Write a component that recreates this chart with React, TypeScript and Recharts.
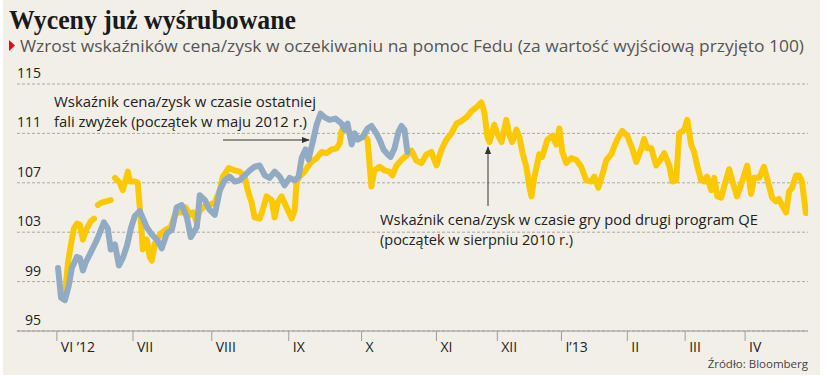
import { CartesianGrid, Line, LineChart, XAxis, YAxis } from "recharts";

// x = trading session counted from the left edge of the plot
const monthTicks = [13.3, 38.7, 65, 90.7, 115, 140, 160.3, 181.7, 203.7, 223, 243];
const monthLabels = ["VI ’12", "VII", "VIII", "IX", "X", "XI", "XII", "I’13", "II", "III", "IV"];
const valueTicks = [95, 99, 103, 107, 111, 115];

// wskaźnik C/Z, fala zwyżek od maja 2012 (niebieska)
const wave2012: [number, number][] = [
  [13.7, 100.1], [14.7, 97.7], [16, 97.5], [17.3, 98.7], [18.3, 100.1], [20, 101.0], [21, 100.9],
  [22, 99.9], [23, 100.6], [24.3, 101.2], [25.3, 101.7], [26.7, 102.4], [27.7, 103.0], [29, 103.8],
  [30.3, 103.3], [31.3, 101.6], [32.7, 102.0], [34, 100.3], [35.3, 100.9], [36.7, 101.9], [38, 103.3],
  [39.3, 104.3], [41, 104.7], [43.3, 103.4], [45, 102.8], [46.7, 102.4], [48.3, 101.7], [50, 102.9],
  [51.7, 103.2], [53.3, 105.0], [55, 105.2], [56.7, 104.2], [58, 102.6], [60, 103.4], [61, 106.0],
  [62.7, 105.6], [64.3, 104.8], [66, 104.4], [67.7, 106.4], [69.3, 107.2], [71, 107.5], [72.7, 107.1],
  [74.3, 107.2], [76, 107.6], [77.7, 108.0], [79.3, 108.3], [81, 108.4], [82.7, 107.6], [84.3, 107.4],
  [86, 107.9], [87.7, 107.5], [89.3, 106.8], [91, 107.4], [92.7, 107.2], [94, 107.5], [95, 109.0],
  [96.3, 109.7], [97.3, 108.9], [98.7, 110.3], [100, 111.7], [101.3, 112.6], [102.7, 112.3],
  [104.3, 112.1], [106.3, 112.2], [108.3, 111.8], [109.3, 111.3], [110.3, 111.8], [111.7, 110.1],
  [112.7, 111.0], [113.7, 110.5], [115.3, 110.7], [117, 111.4], [118.3, 111.6], [119.7, 111.1],
  [121, 110.5], [122.3, 109.7], [123.7, 109.3], [124.7, 109.1], [126, 109.8], [127.3, 111.1],
  [128.3, 111.6], [129.3, 111.3], [130.3, 109.5],
];

// wskaźnik C/Z przed QE2, od sierpnia 2010 (żółta); null = przerwa w linii
const qe2010: [number, number | null][] = [
  [15.3, 98.2], [16.3, 98.7], [17, 100.5], [18, 102.0], [19, 103.3], [20, 103.7], [21, 103.6],
  [22, 102.4], [23.3, 103.3], [24.7, 103.9], [25.7, 104.1], [26.5, null],
  [27, 105.2], [28.3, 105.4], [29.7, 105.5], [31.3, 105.6], [32, null],
  [32.7, 107.4], [34.3, 107.0], [35.3, 106.4], [36, 107.0], [37, 107.9], [37.7, 107.1], [39.3, 107.1],
  [40.3, 107.0], [41.3, 104.0], [42, 101.6], [43.3, 102.4], [44.3, 101.0], [45, 100.7], [46, 102.1],
  [48, 102.9], [49.7, 103.2], [51.3, 103.4], [53, 104.6], [55, 104.6], [56.3, 105.0], [57.7, 104.4],
  [58.7, 104.6], [60, 103.8], [61, 104.8], [62.7, 105.1], [64.3, 105.2], [66, 105.4], [67.7, 106.4],
  [68.7, 107.5], [70.7, 108.2], [72.7, 108.0], [74.3, 107.9], [76, 107.5], [77, 106.4], [78.3, 105.4],
  [79.3, 104.2], [81, 104.1], [82, 104.8], [83.3, 105.9], [85, 105.6], [86, 104.2], [87, 105.4],
  [88.3, 105.9], [90, 105.0], [91.7, 104.1], [92.7, 104.8], [93.3, 107.0], [94.3, 107.5], [96, 107.9],
  [97, 108.3], [98.3, 108.7], [100, 109.0], [101.7, 109.5], [103.3, 109.4], [105, 109.7],
  [106.7, 109.8], [107.7, 110.2], [108.3, 111.2], [109.3, 111.4], [111, 111.0], [112.7, 110.6],
  [114.3, 110.6], [116, 110.8], [117, 110.5], [117.7, 108.4], [118.3, 106.7], [119.3, 108.0],
  [121, 108.3], [122.7, 108.0], [124.3, 107.9], [125.3, 107.6], [126.7, 108.4], [128.3, 108.85],
  [130, 109.2], [131.7, 109.6], [133.3, 108.8], [135, 108.6], [136.7, 109.3], [138.3, 109.5],
  [140, 108.4], [141.7, 109.7], [143.3, 110.5], [145, 111.0], [146.7, 111.8], [148.3, 112.0],
  [150, 112.3], [151.7, 112.8], [153.3, 113.1], [155, 113.5], [156, 112.7], [157, 110.7],
  [157.7, 110.3], [159.3, 111.7], [160.3, 111.0], [161.7, 110.3], [163.3, 112.1], [164.3, 110.9],
  [165.3, 110.3], [166.7, 111.3], [167.7, 110.7], [168.7, 109.4], [170, 108.3], [171, 106.7],
  [171.7, 105.9], [172.7, 107.5], [174.3, 109.3], [175.3, 109.1], [177, 110.5], [178.7, 110.8],
  [180, 110.1], [181, 111.4], [182, 109.5], [183.3, 108.6], [185, 109.0], [186.7, 108.85],
  [188.3, 108.3], [190, 107.2], [191.7, 107.1], [192.7, 107.5], [194, 106.6], [195.3, 107.6],
  [196.7, 108.85], [198.3, 109.3], [200.3, 110.5], [202, 111.2], [203.7, 110.8], [205.3, 109.8],
  [206.7, 108.7], [208.3, 109.7], [209.3, 110.55], [210.3, 109.8], [211.7, 109.8], [213.3, 108.4],
  [214.7, 108.85], [216, 109.4], [217.7, 108.4], [218.7, 107.1], [220, 107.2], [221, 111.0],
  [222.7, 111.3], [223.7, 112.1], [225, 110.1], [226, 109.5], [227, 108.4], [228.3, 107.2],
  [229.3, 107.1], [230.3, 107.5], [231.7, 106.4], [232.7, 107.4], [233.7, 105.9], [235, 105.8],
  [236, 106.7], [237.7, 108.1], [238.7, 107.2], [240.3, 105.9], [242, 107.1], [243.7, 108.4],
  [245, 106.1], [246, 107.4], [247.7, 107.4], [249.3, 108.3], [250.3, 107.4], [252, 105.8],
  [253.3, 105.5], [254.3, 105.7], [255.3, 105.2], [256.7, 104.6], [257.7, 106.3], [258.7, 106.6],
  [260, 107.6], [261, 107.6], [262, 107.1], [263.3, 104.55],
];

const wave2012Rows = wave2012.map(([day, value]) => ({ day, value }));
const qe2010Rows = qe2010.map(([day, value]) => ({ day, value }));

const SANS = "'Open Sans', 'DejaVu Sans', sans-serif";
const YELLOW = "#fcc800";
const BLUE = "#92abc4";

function MonthTick({ x, y, payload }: any) {
  const label = monthLabels[monthTicks.indexOf(payload.value)];
  return (
    <g>
      <line x1={x} x2={x} y1={y} y2={y + 10} stroke="#9c9c9c" />
      <text x={x + 4} y={y + 21} fontSize={14} fill="#222" fontFamily={SANS}>
        {label}
      </text>
    </g>
  );
}

function ValueTick({ x, y, payload }: any) {
  // label sits above its gridline, right edge ~24px into the plot
  return (
    <text x={x + 24} y={y - 6} fontSize={14} fill="#222" textAnchor="end" fontFamily={SANS}>
      {payload.value}
    </text>
  );
}

function Overlay() {
  return (
    <svg width={830} height={383} style={{ position: "absolute", left: 0, top: 0, pointerEvents: "none" }}>
      <defs>
        <marker id="head" viewBox="0 0 10 10" refX="9" refY="5" markerWidth="8" markerHeight="8" orient="auto">
          <path d="M0,1 L10,5 L0,9 z" fill="#333" />
        </marker>
      </defs>
      <text x={9} y={29} fontFamily="'Liberation Serif', serif" fontWeight="bold" fontSize={28} fill="#1a1a1a"
        textLength={287} lengthAdjust="spacingAndGlyphs">
        Wyceny już wyśrubowane
      </text>
      <path d="M9,40 L15,45.5 L9,51 z" fill="#e2001a" />
      <text x={20} y={52} fontFamily={SANS} fontSize={17} fill="#555" textLength={784} lengthAdjust="spacingAndGlyphs">
        Wzrost wskaźników cena/zysk w oczekiwaniu na pomoc Fedu (za wartość wyjściową przyjęto 100)
      </text>

      <text x={54} y={107} fontFamily={SANS} fontSize={14.5} fill="#222" textLength={262} lengthAdjust="spacingAndGlyphs">
        Wskaźnik cena/zysk w czasie ostatniej
      </text>
      <text x={54} y={127} fontFamily={SANS} fontSize={14.5} fill="#222" textLength={253} lengthAdjust="spacingAndGlyphs">
        fali zwyżek (początek w maju 2012 r.)
      </text>
      <line x1={223} y1={140} x2={309} y2={140} stroke="#333" strokeWidth={1} markerEnd="url(#head)" />

      <line x1={488} y1={206} x2={488} y2={147} stroke="#333" strokeWidth={1} markerEnd="url(#head)" />
      <text x={380} y={225} fontFamily={SANS} fontSize={14.5} fill="#222" textLength={378} lengthAdjust="spacingAndGlyphs">
        Wskaźnik cena/zysk w czasie gry pod drugi program QE
      </text>
      <text x={380} y={245} fontFamily={SANS} fontSize={14.5} fill="#222" textLength={193} lengthAdjust="spacingAndGlyphs">
        (początek w sierpniu 2010 r.)
      </text>

      <text x={808} y={368} fontFamily={SANS} fontSize={11.5} fill="#444" textAnchor="end">
        Źródło: Bloomberg
      </text>
    </svg>
  );
}

export default function App() {
  return (
    <div style={{ position: "absolute", left: 0, top: 0, width: 830, height: 383, background: "#fff" }}>
      <div style={{ position: "absolute", left: 3, top: 0, width: 817, height: 375, background: "#f2efe9" }} />
      <div style={{ position: "absolute", left: 0, top: 0 }}>
        <LineChart width={830} height={383} margin={{ top: 84, right: 22, bottom: 22, left: 0 }}>
          <CartesianGrid vertical={false} stroke="#a9a9a9" strokeDasharray="3 2" />
          <XAxis
            type="number"
            dataKey="day"
            domain={[0, 264]}
            ticks={monthTicks}
            interval={0}
            allowDataOverflow
            height={30}
            tickSize={0}
            tickMargin={0}
            tickLine={false}
            axisLine={{ stroke: "#9c9c9c" }}
            tick={<MonthTick />}
          />
          <YAxis
            type="number"
            domain={[95, 115]}
            ticks={valueTicks}
            interval={0}
            width={17}
            tickSize={0}
            tickMargin={0}
            tickLine={false}
            axisLine={false}
            tick={<ValueTick />}
          />
          <Line
            data={qe2010Rows}
            dataKey="value"
            type="linear"
            stroke={YELLOW}
            strokeWidth={6}
            strokeLinejoin="round"
            strokeLinecap="round"
            dot={false}
            activeDot={false}
            connectNulls={false}
            isAnimationActive={false}
          />
          <Line
            data={wave2012Rows}
            dataKey="value"
            type="linear"
            stroke={BLUE}
            strokeWidth={6}
            strokeLinejoin="round"
            strokeLinecap="round"
            dot={false}
            activeDot={false}
            isAnimationActive={false}
          />
        </LineChart>
      </div>
      <Overlay />
    </div>
  );
}
